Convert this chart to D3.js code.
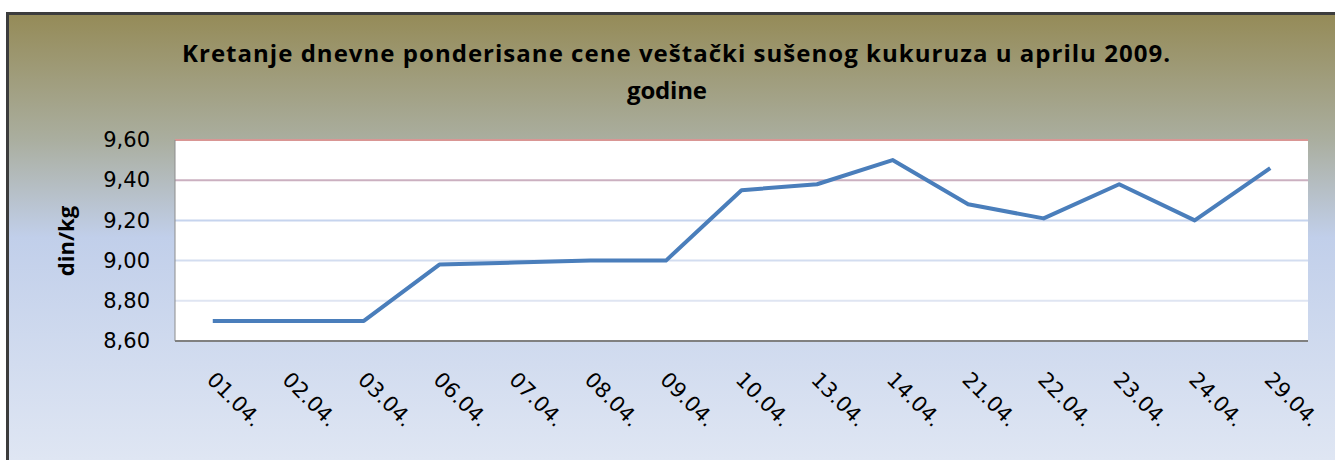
<!DOCTYPE html>
<html>
<head>
<meta charset="utf-8">
<script src="https://cdn.jsdelivr.net/npm/d3@7"></script>
<style>
  body { margin: 0; background: #fff; }
  #chart-container { width: 1335px; height: 460px; }
</style>
</head>
<body>
<div id="chart-container"></div>
<script>
const dates = ['01.04.', '02.04.', '03.04.', '06.04.', '07.04.', '08.04.', '09.04.', '10.04.',
    '13.04.', '14.04.', '21.04.', '22.04.', '23.04.', '24.04.', '29.04.'];
const prices = [8.70, 8.70, 8.70, 8.98, 8.99, 9.00, 9.00, 9.35, 9.38, 9.50, 9.28, 9.21, 9.38, 9.20, 9.46];
const yTicks = [8.6, 8.8, 9.0, 9.2, 9.4, 9.6];
const gridColors = ['#dfe5f2', '#d3ddf0', '#c6d4ee', '#cbb0c0', '#d99694'];

const width = 1335, height = 460;
const margin = { top: 140, right: 27, bottom: 119, left: 175 };
const w = width - margin.left - margin.right;
const h = height - margin.top - margin.bottom;

const svg = d3.select('#chart-container')
    .append('svg')
    .attr('width', width)
    .attr('height', height);

const defs = svg.append('defs');
const grad = defs.append('linearGradient')
    .attr('id', 'bg')
    .attr('x1', 0).attr('y1', 0).attr('x2', 0).attr('y2', 1);
grad.append('stop').attr('offset', '0%').attr('stop-color', '#958b58');
grad.append('stop').attr('offset', '28%').attr('stop-color', '#aaae9f');
grad.append('stop').attr('offset', '50%').attr('stop-color', '#c1cfea');
grad.append('stop').attr('offset', '100%').attr('stop-color', '#dfe6f3');

// frame
svg.append('rect')
    .attr('x', 6).attr('y', 12)
    .attr('width', width - 6).attr('height', height - 12)
    .attr('fill', '#3c3c3c');
svg.append('rect')
    .attr('x', 9).attr('y', 15)
    .attr('width', width - 9).attr('height', height - 15)
    .attr('fill', 'url(#bg)');

// title
const title = svg.append('text')
    .attr('text-anchor', 'middle')
    .attr('font-family', '"Open Sans", sans-serif')
    .attr('font-weight', 'bold')
    .attr('font-size', 24)
    .attr('fill', '#000');
title.append('tspan').attr('x', 676).attr('y', 62)
    .attr('textLength', 988).attr('lengthAdjust', 'spacing')
    .text('Kretanje dnevne ponderisane cene veštački sušenog kukuruza u aprilu 2009.');
title.append('tspan').attr('x', 667).attr('y', 99)
    .attr('textLength', 80).attr('lengthAdjust', 'spacing')
    .text('godine');

const g = svg.append('g')
    .attr('transform', `translate(${margin.left},${margin.top})`);

const xScale = d3.scaleBand()
    .domain(dates)
    .range([0, w]);
const yScale = d3.scaleLinear()
    .domain([8.6, 9.6])
    .range([h, 0]);

g.append('rect')
    .attr('width', w).attr('height', h)
    .attr('fill', '#fff');

// grid
g.selectAll('.grid')
    .data(yTicks.slice(1))
    .join('line')
    .attr('class', 'grid')
    .attr('x1', 0).attr('x2', w)
    .attr('y1', d => yScale(d)).attr('y2', d => yScale(d))
    .attr('stroke', (d, i) => gridColors[i])
    .attr('stroke-width', 2);

// axes lines
g.append('line')
    .attr('x1', 0).attr('x2', 0).attr('y1', 0).attr('y2', h)
    .attr('stroke', '#8c8c8c').attr('stroke-width', 1);
g.append('line')
    .attr('x1', 0).attr('x2', w).attr('y1', h).attr('y2', h)
    .attr('stroke', '#808080').attr('stroke-width', 2);

// y axis labels
const yAxis = g.append('g')
    .call(d3.axisLeft(yScale)
        .tickValues(yTicks)
        .tickSize(0)
        .tickPadding(25)
        .tickFormat(d => d3.format('.2f')(d).replace('.', ',')));
yAxis.select('.domain').remove();
yAxis.selectAll('text')
    .attr('font-family', '"DejaVu Sans", sans-serif')
    .attr('font-size', 21)
    .attr('fill', '#000');

// x axis labels
const xAxis = g.append('g')
    .attr('transform', `translate(0,${h})`)
    .call(d3.axisBottom(xScale).tickSize(0).tickPadding(0));
xAxis.select('.domain').remove();
xAxis.selectAll('text')
    .attr('font-family', '"DejaVu Sans", sans-serif')
    .attr('font-size', 21)
    .attr('fill', '#000')
    .attr('text-anchor', 'start')
    .attr('dy', 0)
    .attr('y', 0)
    .attr('transform', 'translate(-7,40) rotate(45)');

// y title
svg.append('text')
    .attr('transform', 'translate(74,241) rotate(-90)')
    .attr('text-anchor', 'middle')
    .attr('font-family', '"Open Sans", sans-serif')
    .attr('font-weight', 'bold')
    .attr('font-size', 22)
    .text('din/kg');

// series line
const line = d3.line()
    .x((d, i) => xScale(dates[i]) + xScale.bandwidth() / 2)
    .y(d => yScale(d));

g.append('path')
    .datum(prices)
    .attr('fill', 'none')
    .attr('stroke', '#4a7ebb')
    .attr('stroke-width', 4)
    .attr('stroke-linejoin', 'round')
    .attr('d', line);
</script>
</body>
</html>
